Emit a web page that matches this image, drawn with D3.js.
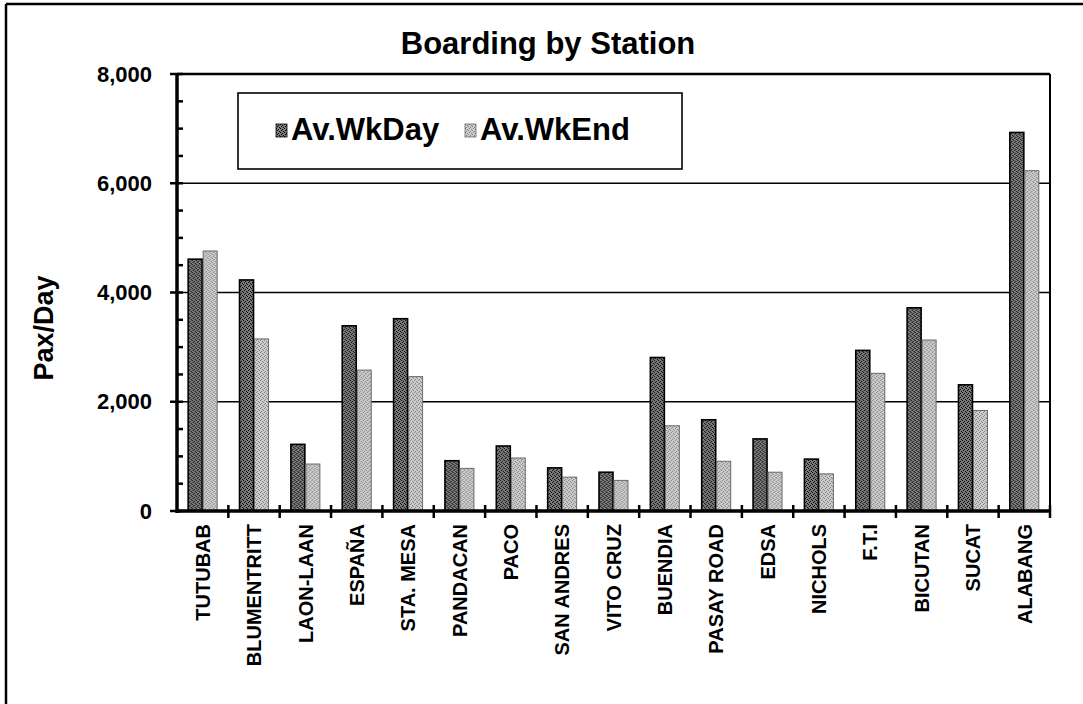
<!DOCTYPE html>
<html>
<head>
<meta charset="utf-8">
<script src="https://cdn.jsdelivr.net/npm/d3@7"></script>
<style>
  html, body { margin: 0; padding: 0; background: #fff; }
  svg { display: block; font-family: "Liberation Sans", Arial, sans-serif; }
</style>
</head>
<body>
<svg id="chart" width="1083" height="704"></svg>
<script>
// Boarding passengers per station (pax/day)
const stations = ["TUTUBAB", "BLUMENTRITT", "LAON-LAAN", "ESPAÑA", "STA. MESA", "PANDACAN", "PACO",
  "SAN ANDRES", "VITO CRUZ", "BUENDIA", "PASAY ROAD", "EDSA", "NICHOLS", "F.T.I", "BICUTAN", "SUCAT", "ALABANG"];
const weekday = [4610, 4230, 1220, 3390, 3520, 920, 1190, 790, 710, 2810, 1670, 1320, 950, 2940, 3720, 2310, 6930];
const weekend = [4760, 3150, 860, 2580, 2460, 780, 970, 620, 560, 1560, 910, 710, 680, 2520, 3130, 1840, 6230];
const seriesNames = ["Av.WkDay", "Av.WkEnd"];
const yMajorTicks = [0, 2000, 4000, 6000, 8000];
const yMinorTicks = d3.range(0, 8001, 500);

const svg = d3.select("#chart");
const plot = { left: 177, right: 1050, top: 74, bottom: 511 };

// stippled fills for the two series
const defs = svg.append("defs");
function stipple(id, bg, dot, cells) {
  const p = defs.append("pattern").attr("id", id).attr("width", 4).attr("height", 4)
    .attr("patternUnits", "userSpaceOnUse");
  p.append("rect").attr("width", 4).attr("height", 4).attr("fill", bg);
  cells.forEach(([cx, cy]) => p.append("rect").attr("x", cx).attr("y", cy)
    .attr("width", 1).attr("height", 1).attr("fill", dot).attr("shape-rendering", "crispEdges"));
}
stipple("fillDark", "#7c7c7c", "#000", [[0, 0], [2, 1], [1, 2], [3, 3]]);
stipple("fillLight", "#cdcdcd", "#7e7e7e", [[1, 0], [3, 1], [0, 2], [2, 3]]);
const fills = ["url(#fillDark)", "url(#fillLight)"];
const strokes = ["#000", "#6a6a6a"];

// outer frame (top and left edges)
svg.append("line").attr("x1", 6).attr("x2", 1083).attr("y1", 4).attr("y2", 4)
  .attr("stroke", "#000").attr("stroke-width", 2.5);
svg.append("line").attr("x1", 6).attr("x2", 6).attr("y1", 4).attr("y2", 704)
  .attr("stroke", "#000").attr("stroke-width", 2.5);

const x = d3.scaleBand().domain(stations).range([plot.left, plot.right])
  .paddingInner(0.416).paddingOuter(0.208);
const xs = d3.scaleBand().domain(seriesNames).range([0, x.bandwidth()]);
const y = d3.scaleLinear().domain([0, 8000]).range([plot.bottom, plot.top]);

// gridlines
svg.append("g").selectAll("line").data(yMajorTicks.filter(v => v > 0)).join("line")
  .attr("x1", plot.left).attr("x2", plot.right)
  .attr("y1", d => y(d)).attr("y2", d => y(d))
  .attr("stroke", "#000").attr("stroke-width", d => d === 8000 ? 2.5 : 1.6);
// right border
svg.append("line").attr("x1", plot.right).attr("x2", plot.right)
  .attr("y1", plot.top).attr("y2", plot.bottom).attr("stroke", "#000").attr("stroke-width", 2);

// bars
const rows = stations.map((s, i) => ({ s, vals: [weekday[i], weekend[i]] }));
const groups = svg.append("g").selectAll("g").data(rows).join("g")
  .attr("transform", d => `translate(${x(d.s)},0)`);
groups.selectAll("rect").data(d => d.vals.map((v, k) => ({ v, k }))).join("rect")
  .attr("x", d => xs(seriesNames[d.k]) + 0.5)
  .attr("width", xs.bandwidth() - 1)
  .attr("y", d => y(d.v))
  .attr("height", d => y(0) - y(d.v))
  .attr("fill", d => fills[d.k])
  .attr("stroke", d => strokes[d.k])
  .attr("stroke-width", d => d.k === 0 ? 1.6 : 1);

// y axis
const yAxis = svg.append("g").attr("transform", `translate(${plot.left},0)`)
  .call(d3.axisLeft(y).tickValues(yMajorTicks).tickFormat(d3.format(",")).tickSize(0).tickPadding(25));
yAxis.select(".domain").remove();
yAxis.selectAll("text").attr("font-size", 22).attr("font-weight", "bold").attr("fill", "#000");
svg.append("line").attr("x1", plot.left).attr("x2", plot.left)
  .attr("y1", plot.top - 1).attr("y2", plot.bottom + 2).attr("stroke", "#000").attr("stroke-width", 3.5);
svg.append("g").selectAll("line").data(yMinorTicks).join("line")
  .attr("x1", d => yMajorTicks.includes(d) ? plot.left - 7 : plot.left)
  .attr("x2", plot.left + 6)
  .attr("y1", d => y(d)).attr("y2", d => y(d))
  .attr("stroke", "#000").attr("stroke-width", 2.5);

// x axis
svg.append("line").attr("x1", plot.left).attr("x2", plot.right + 1)
  .attr("y1", plot.bottom).attr("y2", plot.bottom).attr("stroke", "#000").attr("stroke-width", 3.5);
const step = x.step();
const boundaries = stations.map(s => x(s) - step * x.paddingInner() / 2).concat([plot.right]);
svg.append("g").selectAll("line").data(boundaries.slice(1)).join("line")
  .attr("x1", d => d).attr("x2", d => d)
  .attr("y1", plot.bottom - 6).attr("y2", plot.bottom + 7)
  .attr("stroke", "#000").attr("stroke-width", 2.5);
const xAxis = svg.append("g").attr("transform", `translate(0,${plot.bottom})`)
  .call(d3.axisBottom(x).tickSize(0).tickPadding(0));
xAxis.select(".domain").remove();
xAxis.selectAll("text")
  .attr("font-size", 20).attr("font-weight", "bold").attr("fill", "#000")
  .attr("text-anchor", "end")
  .attr("transform", "rotate(-90)")
  .attr("x", -13).attr("y", 0).attr("dy", "0.36em");

// y axis title
svg.append("text").attr("transform", "translate(53,328) rotate(-90)")
  .attr("text-anchor", "middle").attr("font-size", 27).attr("font-weight", "bold").text("Pax/Day");

// title
svg.append("text").attr("x", 548).attr("y", 54).attr("text-anchor", "middle")
  .attr("font-size", 31).attr("font-weight", "bold").text("Boarding by Station");

// legend
const legend = svg.append("g");
legend.append("rect").attr("x", 238).attr("y", 93).attr("width", 444).attr("height", 76)
  .attr("fill", "#fff").attr("stroke", "#000").attr("stroke-width", 1.6);
const legendX = [276, 465];
seriesNames.forEach((name, k) => {
  legend.append("rect").attr("x", legendX[k]).attr("y", 124).attr("width", 11).attr("height", 13)
    .attr("fill", fills[k]).attr("stroke", strokes[k]).attr("stroke-width", 0.8);
  legend.append("text").attr("x", legendX[k] + 15).attr("y", 140)
    .attr("font-size", 31).attr("font-weight", "bold").text(name);
});
</script>
</body>
</html>
